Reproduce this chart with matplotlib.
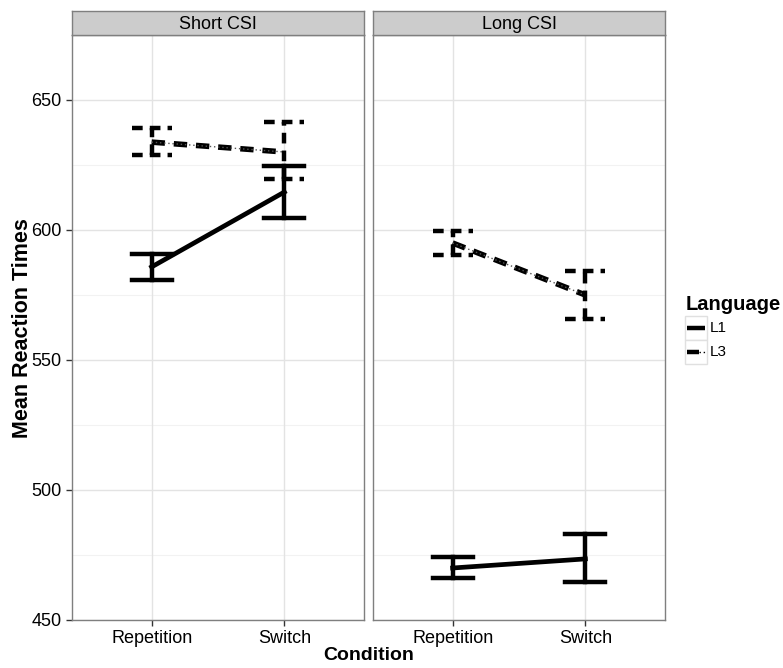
import matplotlib.pyplot as plt
from matplotlib.patches import Rectangle

plt.rcParams["font.family"] = ["Liberation Sans", "DejaVu Sans"]

conditions = ["Repetition", "Switch"]
panels = ["Short CSI", "Long CSI"]
languages = ["L1", "L3"]

# mean, lower, upper per panel
short_l1 = [585.8, 614.6]
short_l1_lo = [580.8, 604.6]
short_l1_hi = [590.8, 624.6]
short_l3 = [633.8, 630.0]
short_l3_lo = [628.8, 619.6]
short_l3_hi = [639.2, 641.5]

long_l1 = [470.0, 473.5]
long_l1_lo = [466.2, 464.6]
long_l1_hi = [474.2, 483.0]
long_l3 = [595.0, 575.0]
long_l3_lo = [590.4, 565.8]
long_l3_hi = [599.6, 584.2]

yticks = [450, 500, 550, 600, 650]
W, H = 783, 668

fig = plt.figure(figsize=(W / 100, H / 100), dpi=100)
fig.patch.set_facecolor("white")

panel_data = [
    (short_l1, short_l1_lo, short_l1_hi, short_l3, short_l3_lo, short_l3_hi),
    (long_l1, long_l1_lo, long_l1_hi, long_l3, long_l3_lo, long_l3_hi),
]
lefts = [72, 373]
pw = 292
top, bottom = 35, 620
border = "#7f7f7f"
dash = (0, (2.4, 1.6))


def draw_series(ax, x, m, lo, hi, dashed):
    if dashed:
        ax.plot(x, m, color="black", lw=4, ls=dash, solid_capstyle="butt", zorder=3)
        ax.plot(x, m, color="#555555", lw=1, ls=(0, (1, 2)), zorder=3)
    else:
        ax.plot(x, m, color="black", lw=3.4, zorder=3)
    ls = dash if dashed else "-"
    for xi, l, h in zip(x, lo, hi):
        ax.plot([xi, xi], [l, h], color="black", lw=3.2, ls=ls, zorder=3)
        ax.plot([xi - 0.15, xi + 0.15], [l, l], color="black", lw=3.2, ls=ls, zorder=3)
        ax.plot([xi - 0.15, xi + 0.15], [h, h], color="black", lw=3.2, ls=ls, zorder=3)


for i, (name, data) in enumerate(zip(panels, panel_data)):
    l1, l1lo, l1hi, l3, l3lo, l3hi = data
    ax = fig.add_axes([lefts[i] / W, 1 - bottom / H, pw / W, (bottom - top) / H])
    x = [1, 2]
    ax.set_xlim(0.4, 2.6)
    ax.set_ylim(450, 675)
    for yv in [475, 525, 575, 625, 675]:
        ax.axhline(yv, color="#f2f2f2", lw=0.8, zorder=0)
    for yv in yticks:
        ax.axhline(yv, color="#e3e3e3", lw=1, zorder=0)
    for xv in x:
        ax.axvline(xv, color="#e3e3e3", lw=1, zorder=0)
    draw_series(ax, x, l1, l1lo, l1hi, False)
    draw_series(ax, x, l3, l3lo, l3hi, True)
    ax.set_xticks(x)
    ax.set_xticklabels(conditions, fontsize=13)
    ax.set_yticks(yticks)
    if i == 0:
        ax.set_yticklabels([str(v) for v in yticks], fontsize=13)
    else:
        ax.tick_params(axis="y", left=False, labelleft=False)
    ax.tick_params(colors="#333333", length=4, width=1)
    ax.tick_params(labelcolor="black")
    for s in ax.spines.values():
        s.set_color(border)
        s.set_linewidth(1)

    sax = fig.add_axes([lefts[i] / W, 1 - top / H, pw / W, 24 / H])
    sax.set_facecolor("#cccccc")
    sax.set_xticks([])
    sax.set_yticks([])
    for s in sax.spines.values():
        s.set_color(border)
        s.set_linewidth(1)
    sax.text(0.5, 0.45, name, ha="center", va="center", fontsize=13, transform=sax.transAxes)

fig.text(23 / W, 1 - 328 / H, "Mean Reaction Times", rotation=90, ha="center", va="center",
         fontsize=15.5, fontweight="bold")
fig.text((72 + 665) / 2 / W, 1 - 656 / H, "Condition", ha="center", va="center",
         fontsize=14, fontweight="bold")

# legend drawn by hand in a pixel-space axes
lax = fig.add_axes([0, 0, 1, 1], facecolor="none")
lax.set_xlim(0, W)
lax.set_ylim(H, 0)
lax.axis("off")
lax.text(686, 305, "Language", fontsize=14.5, fontweight="bold", ha="left", va="center")
for j, lang in enumerate(languages):
    y0 = 316 + j * 24
    lax.add_patch(Rectangle((685, y0), 22, 24, facecolor="white", edgecolor="#e0e0e0", lw=1))
    yc = y0 + 12
    if lang == "L1":
        lax.plot([687, 705], [yc, yc], color="black", lw=3.2, solid_capstyle="butt")
    else:
        lax.plot([687, 699], [yc, yc], color="black", lw=3.2, solid_capstyle="butt")
        lax.plot([699, 706], [yc, yc], color="black", lw=1, ls=(0, (1, 2)))
    lax.text(710, yc, lang, fontsize=11, ha="left", va="center")

fig.savefig("out.png", dpi=100)
